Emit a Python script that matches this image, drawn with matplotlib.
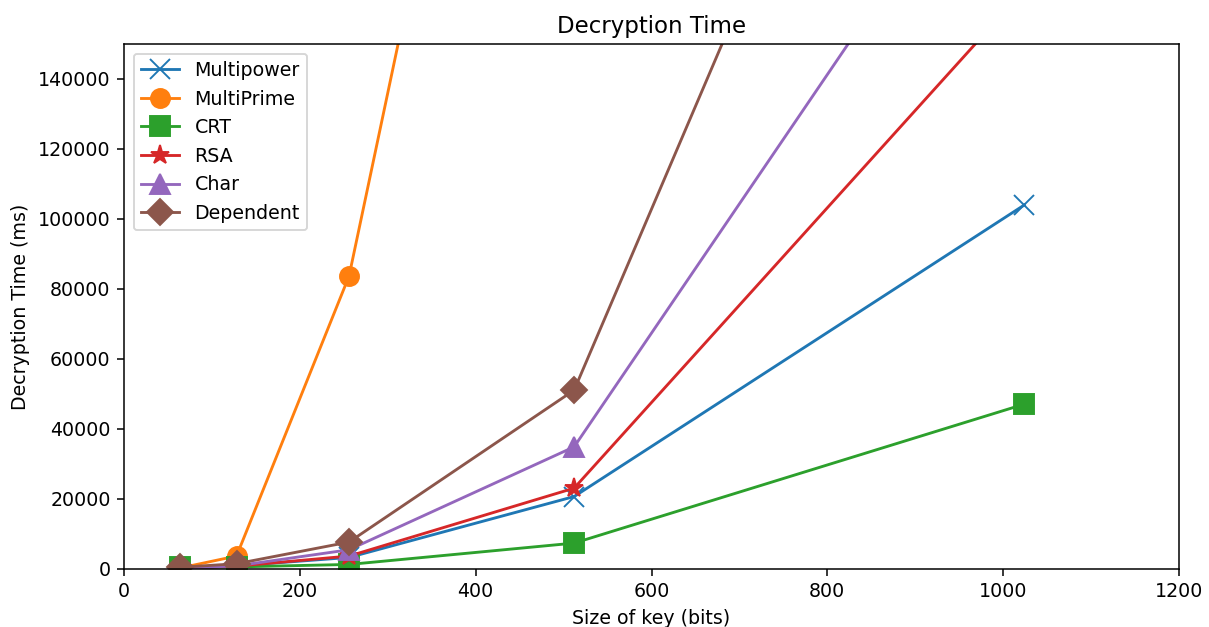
import matplotlib
matplotlib.use("Agg")
import matplotlib.pyplot as plt

key_sizes = [64, 128, 256, 512, 1024]
multipower = [250, 900, 3300, 20700, 104000]
multiprime = [300, 3700, 83700, 388000, 1900000]
crt = [500, 600, 1300, 7400, 47100]
rsa = [200, 800, 3700, 23100, 165500]
char = [200, 900, 5500, 34900, 224000]
dependent = [500, 1500, 7700, 51100, 352000]

series = [
    ("Multipower", multipower, "x"),
    ("MultiPrime", multiprime, "o"),
    ("CRT", crt, "s"),
    ("RSA", rsa, "*"),
    ("Char", char, "^"),
    ("Dependent", dependent, "D"),
]

DPI = 137
fig = plt.figure(figsize=(1209/DPI, 627/DPI), dpi=DPI)
ax = fig.add_axes([124/1209, 1 - 569/627, (1179-124)/1209, (569-44)/627])
for name, vals, m in series:
    ax.plot(key_sizes, vals, marker=m, markersize=10, label=name)
ax.set_xlim(0, 1200)
ax.set_ylim(0, 150000)
ax.set_title("Decryption Time")
ax.set_xlabel("Size of key (bits)")
ax.set_ylabel("Decryption Time (ms)")
ax.legend(loc="upper left")
fig.savefig("out.png", dpi=DPI)
